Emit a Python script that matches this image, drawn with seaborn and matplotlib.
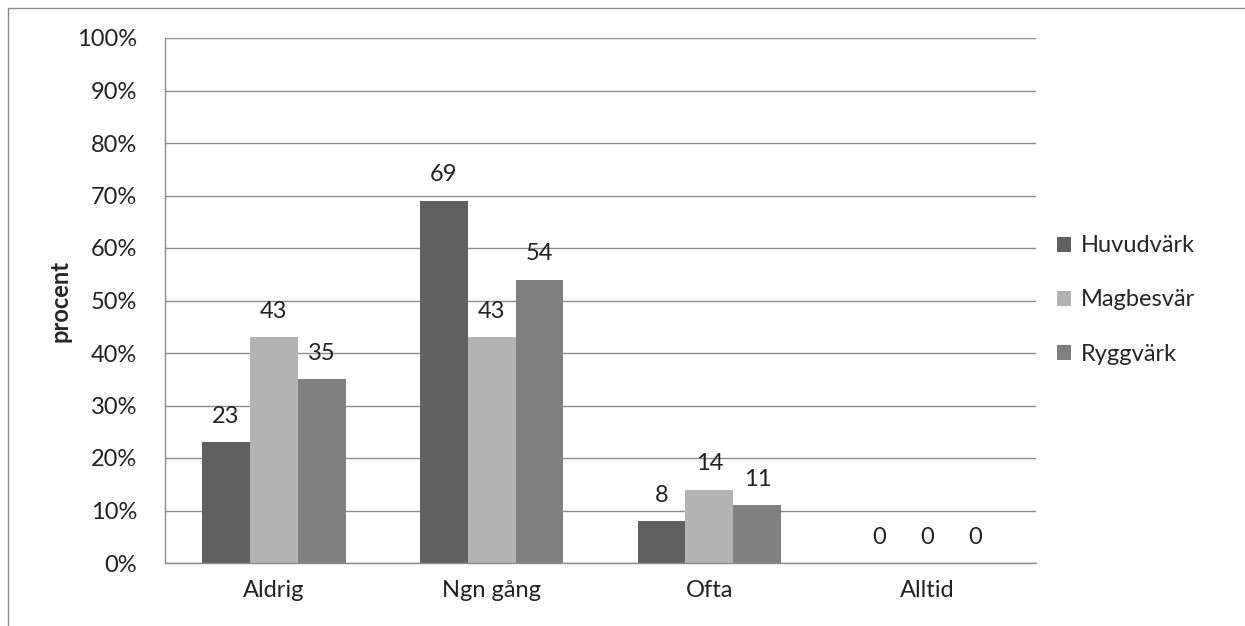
import pandas as pd
import numpy as np
import matplotlib.pyplot as plt
import seaborn as sns
from matplotlib.patches import Rectangle

# Data (percent)
categories = ["Aldrig", "Ngn gång", "Ofta", "Alltid"]
series = ["Huvudvärk", "Magbesvär", "Ryggvärk"]
huvudvark = [23, 69, 8, 0]
magbesvar = [43, 43, 14, 0]
ryggvark = [35, 54, 11, 0]
yticks = [0, 10, 20, 30, 40, 50, 60, 70, 80, 90, 100]

colors = ["#606060", "#b3b3b3", "#808080"]

df = pd.DataFrame({
    "kategori": categories * 3,
    "serie": np.repeat(series, len(categories)),
    "varde": huvudvark + magbesvar + ryggvark,
})

sns.set_style("white")
plt.rcParams["font.family"] = ["Lato", "DejaVu Sans"]
fs = 17

fig = plt.figure(figsize=(12.45, 6.26), dpi=100)
ax = fig.add_axes([165 / 1245, 63 / 626, 871 / 1245, 525 / 626])

sns.barplot(df, x="kategori", y="varde", hue="serie", palette=colors,
            width=0.66, saturation=1, linewidth=0, ax=ax, legend=True)

for cont in ax.containers:
    ax.bar_label(cont, fmt="%d", padding=11, fontsize=fs, color="#222222")

ax.set_ylim(0, 100)
ax.set_xlim(-0.5, 3.5)
ax.set_yticks(yticks)
ax.set_yticklabels([f"{t}%" for t in yticks])
ax.yaxis.grid(True, color="#8c8c8c", linewidth=1)
ax.set_axisbelow(True)
ax.tick_params(axis="both", labelsize=fs, length=0, colors="#222222")
ax.tick_params(axis="y", pad=20)
ax.tick_params(axis="x", pad=12)
ax.set_xlabel("")
ax.set_ylabel("procent", fontsize=fs, fontweight="bold", labelpad=4)
for side in ["top", "right"]:
    ax.spines[side].set_visible(False)
for side in ["left", "bottom"]:
    ax.spines[side].set_color("#8c8c8c")
    ax.spines[side].set_linewidth(1)

handles, labels = ax.get_legend_handles_labels()
ax.legend_.remove()
fig.legend(handles, labels, loc="center left", bbox_to_anchor=(1036 / 1245, 1 - 300 / 626),
           frameon=False, fontsize=fs, handlelength=0.6, handleheight=0.6,
           handletextpad=0.4, labelspacing=1.4)

# outer chart border
fig.patches.append(Rectangle((8 / 1245, -0.2), 1.2, 1.2 - 8 / 626, transform=fig.transFigure,
                             fill=False, edgecolor="#8c8c8c", linewidth=1))

fig.savefig("out.png", dpi=100)
